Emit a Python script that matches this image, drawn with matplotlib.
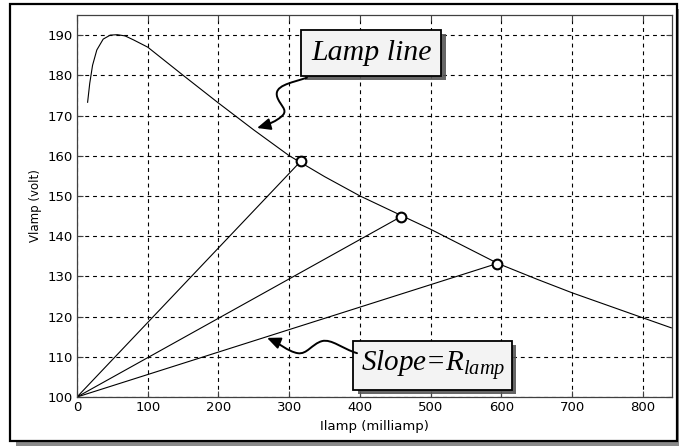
import matplotlib
matplotlib.use("Agg")
import matplotlib.pyplot as plt
from matplotlib.patches import Rectangle, FancyArrowPatch
from matplotlib.path import Path
import matplotlib.patheffects as pe

plt.rcParams['mathtext.fontset'] = 'custom'
plt.rcParams['mathtext.it'] = 'Liberation Serif:italic'
plt.rcParams['mathtext.rm'] = 'Liberation Serif:italic'

# ---- data ----
lamp_i = [15, 18, 22, 28, 37, 47, 57, 68, 80, 100, 150, 200, 250, 300, 350,
          400, 460, 500, 595, 650, 700, 790, 840]
lamp_v = [173.3, 178, 182.5, 186.3, 189, 190, 190.1, 189.8, 188.8, 187, 180,
          173.1, 166.4, 160, 154.8, 150, 145, 141.7, 133.2, 129.3, 125.9,
          120.3, 117.2]
op_i = [316.6, 457.5, 594]
op_v = [158.7, 144.8, 133.2]
origin_i = 0
origin_v = 100
xticks = [0, 100, 200, 300, 400, 500, 600, 700, 800]
yticks = [100, 110, 120, 130, 140, 150, 160, 170, 180, 190]

W, H = 679, 446
fig = plt.figure(figsize=(W / 100, H / 100), dpi=100)
fig.patch.set_facecolor('white')

# outer frame with shadow
fig.patches.append(Rectangle((16 / W, 0 / H), (W + 10 - 16) / W, (441 - 4) / H,
                             transform=fig.transFigure, facecolor='#8a8a8a',
                             edgecolor='none', zorder=0))
fig.patches.append(Rectangle((10 / W, (H - 441) / H), (677 - 10) / W, (441 - 4) / H,
                             transform=fig.transFigure, facecolor='white',
                             edgecolor='black', linewidth=1.6, zorder=1))

ax = fig.add_axes([77 / W, (H - 397) / H, (672 - 77) / W, (397 - 15) / H])
ax.set_zorder(2)
ax.set_facecolor('white')

ax.plot(lamp_i, lamp_v, color='black', lw=0.8)
for xi, yi in zip(op_i, op_v):
    ax.plot([origin_i, xi], [origin_v, yi], color='black', lw=0.8)
ax.plot(op_i, op_v, 'o', ms=7, mfc='white', mec='black', mew=1.5, zorder=5)

ax.set_xlim(0, 841)
ax.set_ylim(100, 195)
ax.set_xticks(xticks)
ax.set_yticks(yticks)
ax.grid(True, color='black', linestyle=(0, (3.5, 3.5)), linewidth=0.8)
ax.tick_params(direction='in', length=4, top=True, right=True,
               labelsize=9.5, color='#404040', pad=3)
for s in ax.spines.values():
    s.set_color('#404040')
    s.set_linewidth(0.9)
ax.set_xlabel('Ilamp (milliamp)', fontsize=9.5, labelpad=4)
ax.set_ylabel('Vlamp (volt)', fontsize=8.5, labelpad=4)

# annotation boxes
box1 = dict(boxstyle='square,pad=0.33', facecolor='#f3f3f3', edgecolor='black', linewidth=1.3)
box2 = dict(boxstyle='square,pad=0.25', facecolor='#f3f3f3', edgecolor='black', linewidth=1.3)
t1 = ax.text(416, 185.6, 'Lamp line', family='Liberation Serif', style='italic',
             fontsize=21.5, ha='center', va='center', bbox=box1, zorder=6)
t2 = ax.text(503, 107.9, 'Slope=$R_{lamp}$', family='Liberation Serif', style='italic',
             fontsize=21, ha='center', va='center', bbox=box2, zorder=6)
for t in (t1, t2):
    t.get_bbox_patch().set_path_effects([
        pe.SimplePatchShadow(offset=(3, -3), shadow_rgbFace='#555555', alpha=0.9),
        pe.Normal()])

# curly arrows
p1 = Path([(325, 179.4), (300, 178.0), (278, 177.4), (283, 174.6),
           (287, 172.5), (298, 171.5), (291, 170.1),
           (283, 168.6), (268, 167.6), (254.4, 166.9)],
          [Path.MOVETO, Path.CURVE4, Path.CURVE4, Path.CURVE4,
           Path.CURVE4, Path.CURVE4, Path.CURVE4,
           Path.CURVE4, Path.CURVE4, Path.CURVE4])
a1 = FancyArrowPatch(path=p1, arrowstyle='-|>,head_length=5,head_width=2.2',
                     color='black', lw=1.4, mutation_scale=1.6, zorder=6)
ax.add_patch(a1)
p2 = Path([(395.8, 110.9), (375, 112.0), (360, 114.5), (346.3, 113.9),
           (332, 113.2), (325, 110.5), (312, 110.9),
           (298, 111.3), (285, 113.5), (268.6, 114.7)],
          [Path.MOVETO, Path.CURVE4, Path.CURVE4, Path.CURVE4,
           Path.CURVE4, Path.CURVE4, Path.CURVE4,
           Path.CURVE4, Path.CURVE4, Path.CURVE4])
a2 = FancyArrowPatch(path=p2, arrowstyle='-|>,head_length=5,head_width=2.2',
                     color='black', lw=1.4, mutation_scale=1.6, zorder=6)
ax.add_patch(a2)

fig.savefig('out.png', dpi=100)
